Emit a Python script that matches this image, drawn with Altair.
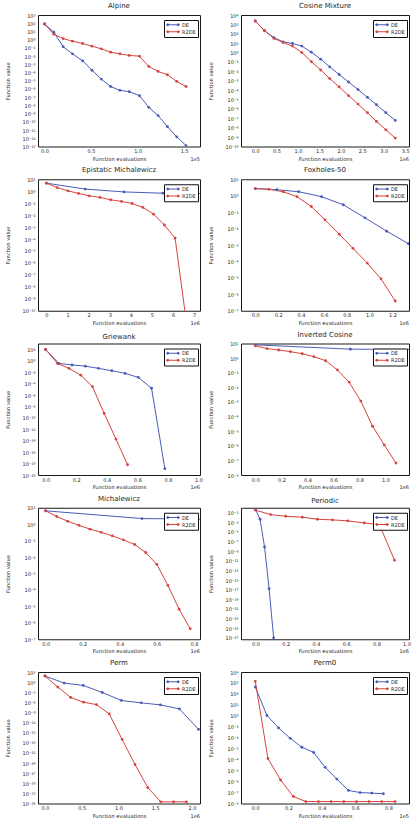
import altair as alt
import pandas as pd

FONT = "DejaVu Sans"
TEXT = "#262626"
BLUE = "#4b5cb8"
RED = "#d6453d"

TITLES = ["Alpine", "Cosine Mixture", "Epistatic Michalewicz", "Foxholes-50",
          "Griewank", "Inverted Cosine", "Michalewicz", "Periodic", "Perm", "Perm0"]
X_OFFSET = ["1e5", "1e6", "1e6", "1e6", "1e6", "1e6", "1e6", "1e6", "1e6", "1e5"]

# ---- series: function evaluations (in units of the offset) and best function value
alpine_x = [0, 0.10, 0.20, 0.30, 0.41, 0.51, 0.61, 0.71, 0.81, 0.91, 1.02, 1.12, 1.22, 1.32, 1.42, 1.52]
alpine_de = [81, 7.9, 0.14, 1.9e-2, 2.6e-3, 1.9e-4, 1.6e-5, 2.0e-6, 6.8e-7, 4.7e-7, 1.5e-7,
             5.9e-9, 5.8e-10, 2.6e-11, 1.5e-12, 1.3e-13]
alpine_r2de = [81, 4.6, 1.35, 0.65, 0.34, 0.16, 7.6e-2, 3.0e-2, 1.9e-2, 1.2e-2, 9.8e-3,
               5.5e-4, 1.35e-4, 5.4e-5, 8.3e-6, 2.0e-6]

cosine_x = [0, 0.22, 0.44, 0.65, 0.87, 1.09, 1.31, 1.53, 1.74, 1.96, 2.18, 2.40, 2.62, 2.83, 3.05, 3.27]
cosine_de = [2300, 210, 38, 14, 9.3, 4.9, 1.1, 0.20, 3.0e-2, 4.6e-3, 7.4e-4, 1.15e-4,
             1.7e-5, 2.8e-6, 4.0e-7, 6.0e-8]
cosine_r2de = [2300, 210, 32, 12, 4.9, 1.0, 0.11, 1.4e-2, 1.7e-3, 2.2e-4, 2.6e-5, 3.3e-6,
               4.0e-7, 4.7e-8, 6.0e-9, 7.8e-10]

epistatic_de_x = [0, 1.84, 3.68, 5.52, 7.36]
epistatic_de = [4.7, 1.5, 0.87, 0.68, 0.63]
epistatic_r2de_x = [0, 0.51, 1.02, 1.52, 2.03, 2.54, 3.05, 3.56, 4.06, 4.57, 5.08, 5.59, 6.10, 6.60]
epistatic_r2de = [4.7, 2.0, 1.07, 0.65, 0.41, 0.30, 0.19, 0.14, 9.3e-2, 4.4e-2, 1.2e-2,
                  1.5e-3, 1.2e-4, 3.2e-11]

foxholes_de_x = [0, 0.19, 0.38, 0.58, 0.77, 0.96, 1.15, 1.34]
foxholes_de = [2.7, 2.3, 1.74, 0.87, 0.28, 4.5e-2, 6.9e-3, 1.2e-3]
foxholes_r2de_x = [0, 0.12, 0.245, 0.365, 0.49, 0.61, 0.735, 0.855, 0.98, 1.10, 1.225]
foxholes_r2de = [2.7, 2.45, 1.74, 0.87, 0.22, 3.4e-2, 4.5e-3, 6.3e-4, 7.9e-5, 8.7e-6, 3.9e-7]

griewank_de_x = [0, 0.087, 0.173, 0.26, 0.346, 0.433, 0.52, 0.606, 0.693, 0.78]
griewank_de = [100, 0.36, 0.19, 0.12, 4.9e-2, 1.9e-2, 6.5e-3, 1.3e-3, 1.6e-5, 1.3e-19]
griewank_r2de_x = [0, 0.077, 0.153, 0.23, 0.306, 0.383, 0.46, 0.536]
griewank_r2de = [100, 0.36, 5.0e-2, 3.2e-3, 3.2e-5, 6.3e-10, 2.0e-14, 6.3e-19]

invcos_de_x = [0, 0.73, 1.46]
invcos_de = [8.1, 4.1, 3.8]
invcos_r2de_x = [0, 0.09, 0.18, 0.27, 0.36, 0.45, 0.54, 0.63, 0.72, 0.81, 0.90, 0.99, 1.08]
invcos_r2de = [6.9, 4.5, 3.6, 2.75, 2.0, 1.26, 0.66, 0.155, 2.3e-2, 1.15e-3, 2.2e-5, 1.15e-6, 6.5e-8]

michal_de_x = [0, 0.52, 1.04]
michal_de = [6.5, 2.2, 1.9]
michal_r2de_x = [0, 0.06, 0.12, 0.18, 0.24, 0.30, 0.36, 0.42, 0.48, 0.54, 0.60, 0.66, 0.72, 0.78]
michal_r2de = [6.5, 2.95, 1.5, 0.85, 0.5, 0.32, 0.195, 0.11, 5.8e-2, 1.9e-2, 3.6e-3, 1.9e-4,
               6.8e-6, 4.4e-7]

periodic_de_x = [0, 0.03, 0.06, 0.09, 0.12]
periodic_de = [0.49, 4.1e-3, 7.2e-9, 1.6e-17, 1.0e-27]
periodic_r2de_x = [0, 0.10, 0.20, 0.31, 0.41, 0.51, 0.61, 0.72, 0.82, 0.92]
periodic_r2de = [0.32, 3.8e-2, 1.7e-2, 1.1e-2, 4.1e-3, 3.0e-3, 1.9e-3, 7.1e-4, 3.2e-4, 1.3e-11]

perm_de_x = [0, 0.26, 0.52, 0.78, 1.04, 1.31, 1.57, 1.83, 2.09]
perm_de = [65, 0.52, 0.105, 8.5e-4, 3.5e-6, 7.1e-7, 1.8e-7, 1.1e-8, 1.0e-14]
perm_r2de_x = [0, 0.175, 0.35, 0.525, 0.70, 0.875, 1.05, 1.225, 1.40, 1.575, 1.75, 1.925]
perm_r2de = [65, 3.3e-2, 2.8e-5, 1.1e-6, 2.2e-7, 3.6e-10, 1.0e-17, 4.0e-25, 5.0e-32,
             3.2e-36, 3.2e-36, 3.2e-36]

perm0_de_x = [0, 0.07, 0.14, 0.21, 0.28, 0.35, 0.42, 0.49, 0.56, 0.63, 0.70, 0.77]
perm0_de = [430, 1.07, 7.9e-2, 8.9e-3, 1.35e-3, 4.7e-4, 2.0e-5, 1.7e-6, 1.55e-7, 1.0e-7, 8.9e-8, 7.8e-8]
perm0_r2de_x = [0, 0.076, 0.152, 0.228, 0.304, 0.38, 0.456, 0.532, 0.608, 0.684, 0.76, 0.84]
perm0_r2de = [1400, 1.25e-4, 1.4e-6, 4.4e-8, 1.5e-8, 1.5e-8, 1.5e-8, 1.5e-8, 1.5e-8, 1.5e-8,
              1.5e-8, 1.5e-8]

SERIES = [
    (alpine_x, alpine_de, alpine_x, alpine_r2de),
    (cosine_x, cosine_de, cosine_x, cosine_r2de),
    (epistatic_de_x, epistatic_de, epistatic_r2de_x, epistatic_r2de),
    (foxholes_de_x, foxholes_de, foxholes_r2de_x, foxholes_r2de),
    (griewank_de_x, griewank_de, griewank_r2de_x, griewank_r2de),
    (invcos_de_x, invcos_de, invcos_r2de_x, invcos_r2de),
    (michal_de_x, michal_de, michal_r2de_x, michal_r2de),
    (periodic_de_x, periodic_de, periodic_r2de_x, periodic_r2de),
    (perm_de_x, perm_de, perm_r2de_x, perm_r2de),
    (perm0_de_x, perm0_de, perm0_r2de_x, perm0_r2de),
]

# ---- axes
X_DOMAINS = [(-0.07, 1.67), (-0.33, 3.59), (-0.4, 7.28), (-0.125, 1.345), (-0.05, 1.01),
             (-0.11, 1.18), (-0.041, 0.833), (-0.096, 1.016), (-0.095, 2.11), (-0.086, 0.924)]
X_TICKS = [
    [0, 0.5, 1.0, 1.5],
    [0, 0.5, 1.0, 1.5, 2.0, 2.5, 3.0, 3.5],
    [0, 1, 2, 3, 4, 5, 6, 7],
    [0, 0.2, 0.4, 0.6, 0.8, 1.0, 1.2],
    [0, 0.2, 0.4, 0.6, 0.8, 1.0],
    [0, 0.2, 0.4, 0.6, 0.8, 1.0],
    [0, 0.2, 0.4, 0.6, 0.8],
    [0, 0.2, 0.4, 0.6, 0.8, 1.0],
    [0, 0.5, 1.0, 1.5, 2.0],
    [0, 0.2, 0.4, 0.6, 0.8],
]
X_FORMAT = [".1f", ".1f", "d", ".1f", ".1f", ".1f", ".1f", ".1f", ".1f", ".1f"]

# log10 of the y domain, and the decades that get a tick label
Y_DOMAINS = [(-13, 3), (-10, 4), (-10, 1), (-7, 1), (-20, 3.05), (-8, 1), (-7, 1),
             (-27.3, 0), (-36, 3), (-8, 4)]
Y_TICKS = [
    list(range(3, -14, -1)),
    list(range(4, -11, -1)),
    list(range(1, -11, -1)),
    list(range(1, -8, -1)),
    list(range(2, -21, -2)),
    list(range(1, -9, -1)),
    list(range(1, -8, -1)),
    list(range(-1, -28, -2)),
    list(range(3, -37, -3)),
    list(range(4, -9, -1)),
]

SUP = {"-": "\u207b", "\u2212": "\u207b", "0": "\u2070", "1": "\u00b9", "2": "\u00b2",
       "3": "\u00b3", "4": "\u2074", "5": "\u2075", "6": "\u2076", "7": "\u2077",
       "8": "\u2078", "9": "\u2079"}


def power_label_expr():
    e = "('' + round(log(datum.value) / LN10))"
    for k, v in SUP.items():
        e = f"replace({e}, regexp('{k}', 'g'), '{v}')"
    return "'10' + " + e


LABEL_EXPR = power_label_expr()

# legend symbol: a short line with a marker at each end
LEGEND_SYMBOL = ("M-1,0L1,0"
                 "M-0.95,0A0.15,0.15,0,1,0,-0.65,0A0.15,0.15,0,1,0,-0.95,0"
                 "M0.65,0A0.15,0.15,0,1,0,0.95,0A0.15,0.15,0,1,0,0.65,0")

H = 131.5
WIDTHS = [162, 168]


def panel(i):
    w = WIDTHS[i % 2]
    dx, dy, rx, ry = SERIES[i]
    df = pd.concat([
        pd.DataFrame({"evals": dx, "value": dy, "series": "DE"}),
        pd.DataFrame({"evals": rx, "value": ry, "series": "R2DE"}),
    ], ignore_index=True)

    lo, hi = Y_DOMAINS[i]
    x = alt.X("evals:Q",
              scale=alt.Scale(domain=list(X_DOMAINS[i]), nice=False, zero=False),
              axis=alt.Axis(values=X_TICKS[i], format=X_FORMAT[i], title="Function evaluations"))
    y = alt.Y("value:Q",
              scale=alt.Scale(type="log", domain=[10.0 ** lo, 10.0 ** hi], nice=False),
              axis=alt.Axis(values=[10.0 ** e for e in Y_TICKS[i]], labelExpr=LABEL_EXPR,
                            title="Function value", minExtent=24, maxExtent=24))
    color = alt.Color("series:N",
                      scale=alt.Scale(domain=["DE", "R2DE"], range=[BLUE, RED]),
                      legend=alt.Legend(title=None, orient="none", legendX=w - 36, legendY=5,
                                        fillColor="white", strokeColor="#111111",
                                        padding=2, labelFontSize=5, labelFont=FONT,
                                        labelColor=TEXT, symbolType=LEGEND_SYMBOL,
                                        symbolSize=169, symbolStrokeWidth=1,
                                        clipHeight=5.5, rowPadding=1, labelOffset=2))
    base = alt.Chart(df).encode(x=x, y=y, color=color)
    lines = base.mark_line(strokeWidth=1, clip=True)
    dots = base.mark_point(filled=True, size=8, opacity=1, clip=True)
    offset_text = alt.Chart(pd.DataFrame({"t": [X_OFFSET[i]]})).mark_text(
        align="right", baseline="middle", fontSize=5, font=FONT, color=TEXT
    ).encode(text="t:N", x=alt.value(w), y=alt.value(H + 12))
    return alt.layer(lines, dots, offset_text,
                     title=alt.Title(TITLES[i], frame="group")).properties(width=w, height=H)


chart = alt.concat(
    *[panel(i) for i in range(10)],
    columns=2, spacing={"row": 32.25, "column": 41}, bounds="flush", align="each",
).resolve_scale(color="independent").resolve_legend(color="independent").properties(
    padding={"left": 5, "top": 1, "right": 0, "bottom": 0}
).configure(font=FONT).configure_view(
    stroke="#1a1a1a", strokeWidth=1
).configure_axis(
    grid=False, ticks=False, domain=False, labelFontSize=5, titleFontSize=5.2,
    labelColor=TEXT, titleColor=TEXT, titleFontWeight="normal", labelFont=FONT, titleFont=FONT,
    labelFlush=False,
).configure_axisX(labelPadding=2, titlePadding=2.5).configure_axisY(
    labelPadding=3, titlePadding=3.4
).configure_title(fontSize=7, fontWeight="normal", color=TEXT, offset=0, anchor="middle", font=FONT)

chart.save("out.html", embed_options={"renderer": "svg", "actions": False})
